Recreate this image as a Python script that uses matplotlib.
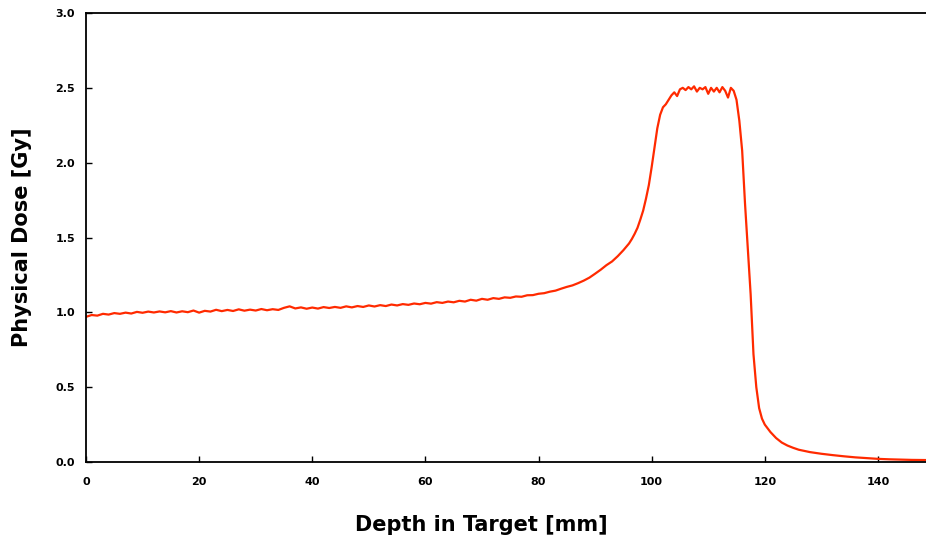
import matplotlib as mpl
mpl.use('Agg')
import matplotlib.pyplot as plt

# depth [mm] and physical dose [Gy]
entrance_depth = list(range(0, 91))
entrance_dose = [
    0.970, 0.982, 0.978, 0.990, 0.985, 0.995, 0.990, 0.998, 0.992, 1.003,
    0.997, 1.005, 0.999, 1.006, 1.000, 1.008, 0.999, 1.007, 1.001, 1.012,
    0.998, 1.010, 1.005, 1.017, 1.008, 1.016, 1.009, 1.020, 1.011, 1.018,
    1.012, 1.022, 1.014, 1.021, 1.016, 1.030, 1.040, 1.026, 1.033, 1.024,
    1.032, 1.025, 1.035, 1.029, 1.036, 1.030, 1.040, 1.033, 1.042, 1.036,
    1.046, 1.039, 1.048, 1.042, 1.052, 1.046, 1.055, 1.050, 1.059, 1.054,
    1.063, 1.058, 1.068, 1.063, 1.072, 1.067, 1.077, 1.072, 1.084, 1.078,
    1.090, 1.084, 1.095, 1.090, 1.100, 1.097, 1.106, 1.104, 1.114, 1.115,
    1.124, 1.128, 1.138, 1.145, 1.158, 1.170, 1.180, 1.195, 1.212, 1.232,
    1.258,
]

peak_depth = [
    91, 92, 93, 94, 95, 96, 96.5, 97, 97.5, 98, 98.5, 99, 99.5, 100,
    100.5, 101, 101.5, 102, 102.5, 103, 103.5, 104, 104.5, 105, 105.5,
    106, 106.5, 107, 107.5, 108, 108.5, 109, 109.5, 110, 110.5, 111,
    111.5, 112, 112.5, 113, 113.5, 114, 114.5, 115, 115.5, 116, 116.5,
    117, 117.5, 118, 118.5, 119, 119.5, 120,
]
peak_dose = [
    1.285, 1.315, 1.340, 1.375, 1.415, 1.460, 1.490, 1.525, 1.565, 1.620,
    1.680, 1.760, 1.850, 1.970, 2.100, 2.230, 2.320, 2.370, 2.390, 2.420,
    2.450, 2.470, 2.445, 2.490, 2.500, 2.485, 2.505, 2.490, 2.510, 2.475,
    2.500, 2.490, 2.505, 2.460, 2.500, 2.475, 2.500, 2.470, 2.505, 2.480,
    2.435, 2.500, 2.480, 2.420, 2.280, 2.080, 1.730, 1.420, 1.120, 0.720,
    0.500, 0.360, 0.290, 0.250,
]

tail_depth = [121, 122, 123, 124, 125, 126, 128, 130, 132, 134, 136, 138,
              140, 142, 144, 146, 148.5]
tail_dose = [0.200, 0.160, 0.130, 0.110, 0.095, 0.082, 0.066, 0.055, 0.046,
             0.038, 0.031, 0.026, 0.021, 0.018, 0.016, 0.014, 0.013]

depth = entrance_depth + peak_depth + tail_depth
dose = entrance_dose + peak_dose + tail_dose

fig = plt.figure(figsize=(9.26, 5.41), dpi=100)
ax = fig.add_axes([86 / 926, 79 / 541, 840 / 926, 449 / 541])
ax.plot(depth, dose, color='#ff2a00', linewidth=1.6)

ax.set_xlim(0, 148.5)
ax.set_ylim(0, 3.0)
ax.set_xticks(range(0, 141, 20))
ax.set_yticks([0.0, 0.5, 1.0, 1.5, 2.0, 2.5, 3.0])
ax.set_yticklabels(['%.1f' % v for v in ax.get_yticks()])
ax.spines['right'].set_visible(False)
for s in ['left', 'bottom', 'top']:
    ax.spines[s].set_linewidth(1.3)
ax.tick_params(axis='both', direction='in', length=4, width=1,
               labelsize=8)
ax.tick_params(axis='x', pad=11)
ax.tick_params(axis='y', pad=8)
for lab in ax.get_xticklabels() + ax.get_yticklabels():
    lab.set_fontweight('bold')

ax.set_xlabel('Depth in Target [mm]', fontsize=15, fontweight='bold')
ax.set_ylabel('Physical Dose [Gy]', fontsize=15, fontweight='bold')
ax.xaxis.set_label_coords(0.471, -0.118)
ax.yaxis.set_label_coords(-0.064, 0.5)

fig.savefig('out.png')
plt.close()
